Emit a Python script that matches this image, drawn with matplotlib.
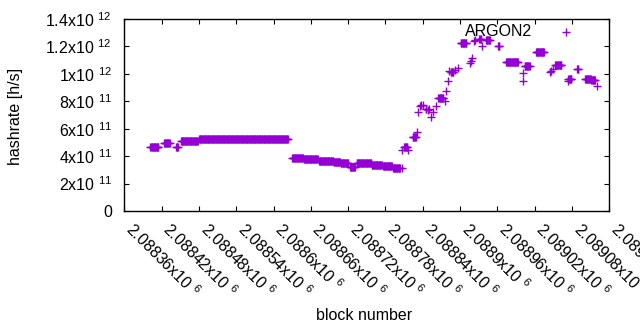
import numpy as np
import matplotlib
matplotlib.use('Agg')
import matplotlib.pyplot as plt

plt.rcParams['font.family'] = ['Liberation Sans', 'DejaVu Sans']
plt.rcParams['mathtext.fontset'] = 'custom'
plt.rcParams['mathtext.rm'] = 'Liberation Sans'
plt.rcParams['mathtext.it'] = 'Liberation Sans:italic'

# runs of blocks with the same hashrate (first block, last block, value)
run_start = [2088402, 2088424, 2088443, 2088451, 2088480, 2088630, 2088649, 2088673,
             2088697, 2088708, 2088723, 2088734, 2088758, 2088776, 2088792, 2088810,
             2088824, 2088865, 2088885, 2088901, 2088931, 2088942, 2088961, 2088974,
             2089004, 2089022, 2089053, 2089074, 2089088, 2089101, 2089111]
run_end = [2088415, 2088433, 2088446, 2088478, 2088623, 2088647, 2088671, 2088696,
           2088707, 2088720, 2088731, 2088757, 2088774, 2088790, 2088803, 2088815,
           2088829, 2088873, 2088889, 2088910, 2088934, 2088948, 2088963, 2088993,
           2089012, 2089035, 2089063, 2089079, 2089090, 2089110, 2089117]
run_value = [4.64e11, 4.98e11, 4.67e11, 5.12e11, 5.23e11, 3.84e11, 3.77e11, 3.68e11,
             3.55e11, 3.48e11, 3.24e11, 3.51e11, 3.39e11, 3.28e11, 3.17e11, 4.65e11,
             5.40e11, 8.27e11, 1.013e12, 1.226e12, 1.255e12, 1.247e12, 1.201e12, 1.084e12,
             1.057e12, 1.159e12, 1.062e12, 9.65e11, 1.037e12, 9.65e11, 9.55e11]

# single blocks
single_block = [2088806, 2088807, 2088817, 2088830, 2088833, 2088836, 2088837, 2088840,
                2088845, 2088846, 2088849, 2088850, 2088853, 2088857, 2088861, 2088876,
                2088878, 2088881, 2088882, 2088892, 2088896, 2088916, 2088917, 2088919,
                2088922, 2088924, 2088936, 2089001, 2089002, 2089045, 2089047, 2089049,
                2089071, 2089073, 2089120]
single_value = [3.11e11, 4.45e11, 4.45e11, 5.78e11, 7.19e11, 7.67e11, 7.70e11, 7.76e11,
                7.47e11, 7.45e11, 7.40e11, 7.42e11, 6.83e11, 7.24e11, 7.65e11, 8.02e11,
                8.75e11, 9.50e11, 1.02e12, 1.028e12, 1.04e12, 1.077e12, 1.097e12, 1.113e12,
                1.236e12, 1.245e12, 1.203e12, 9.48e11, 1.004e12, 1.01e12, 1.024e12, 1.039e12,
                1.307e12, 9.48e11, 9.11e11]

x_ticks = np.arange(2088360, 2089141, 60)
y_ticks = np.arange(0, 1.41e12, 2e11)

blocks = []
rates = []
for s, e, v in zip(run_start, run_end, run_value):
    for b in range(s, e + 1):
        blocks.append(b)
        rates.append(v)
blocks += single_block
rates += single_value

fig = plt.figure(figsize=(6.4, 3.3), dpi=100)
ax = fig.add_axes([124.3 / 640, 1 - 211 / 330, 485 / 640, 192 / 330])

ax.plot(blocks, rates, linestyle='none', marker='+', color='#9400d3',
        markersize=5.2, markeredgewidth=1.0)

ax.set_xlim(2088360, 2089140)
ax.set_ylim(0, 1.4e12)


def xfmt(v):
    return '%sx10 $^{6}$' % ('%.6g' % (v / 1e6))


def yfmt(v):
    if v == 0:
        return '0'
    e = int(np.floor(np.log10(v)))
    m = v / 10 ** e
    return '%sx10 $^{%d}$' % ('%.2g' % m, e)


fs = 11.5
ax.set_xticks(x_ticks)
ax.set_xticklabels([xfmt(v) for v in x_ticks], rotation=-45, ha='left',
                   va='baseline', rotation_mode='anchor', fontsize=fs)
ax.set_yticks(y_ticks)
ax.set_yticklabels([yfmt(v) for v in y_ticks], fontsize=fs)

ax.tick_params(axis='both', direction='in', length=3.5, width=0.8,
               top=True, right=True, colors='black')
ax.tick_params(axis='x', pad=14.3)
ax.tick_params(axis='y', pad=9)
for sp in ax.spines.values():
    sp.set_linewidth(1.0)

ax.text(0.7716, 0.935, 'ARGON2', transform=ax.transAxes, ha='center',
        va='center', fontsize=fs)

fig.text(15.7 / 640, 1 - 116.7 / 330, 'hashrate [h/s]', rotation=90,
         ha='center', va='center', fontsize=fs)
fig.text(364 / 640, 1 - 315 / 330, 'block number', ha='center', va='center',
         fontsize=fs)

fig.savefig('out.png', dpi=100)
